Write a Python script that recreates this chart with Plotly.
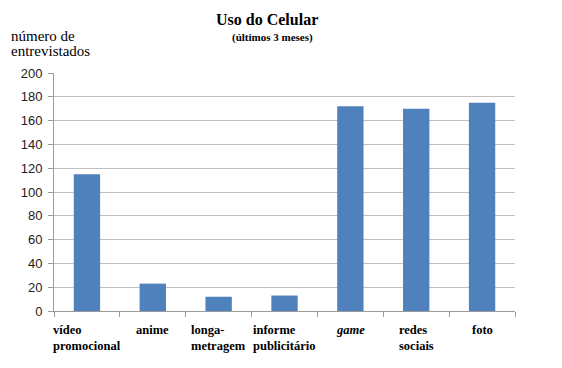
import plotly.graph_objects as go

categories = ["vídeo<br>promocional", "anime", "longa-<br>metragem", "informe<br>publicitário",
              "<i>game</i>", "redes<br>sociais", "foto"]
values = [115, 23, 12, 13, 172, 170, 175]
y_ticks = [0, 20, 40, 60, 80, 100, 120, 140, 160, 180, 200]
title = "Uso do Celular"
subtitle = "(últimos 3 meses)"
y_title_lines = ["número de", "entrevistados"]

idx = list(range(len(categories)))

fig = go.Figure(go.Bar(x=idx, y=values, marker=dict(color="#4f81bd", line=dict(width=0)), width=0.4))

serif = "Liberation Serif, Times New Roman, Times, serif"
L, T, PW, PH = 54, 73, 461, 238


def px(x):
    return (x - L) / PW


def py(y):
    return (T + PH - y) / PH


annotations = []
for i, c in enumerate(categories):
    annotations.append(dict(x=i, y=py(321), xref="x", yref="paper", text="<b>" + c + "</b>",
                            showarrow=False, xanchor="center", yanchor="top", align="left",
                            font=dict(family=serif, size=12.5, color="black")))
annotations += [
    dict(x=px(267), y=py(20), xref="paper", yref="paper", text="<b>" + title + "</b>",
         showarrow=False, xanchor="center", yanchor="middle", font=dict(family=serif, size=16, color="black")),
    dict(x=px(272), y=py(37), xref="paper", yref="paper", text="<b>" + subtitle + "</b>",
         showarrow=False, xanchor="center", yanchor="middle", font=dict(family=serif, size=11, color="black")),
]
for k, line in enumerate(y_title_lines):
    annotations.append(dict(x=px(9), y=py(36 + 15 * k), xref="paper", yref="paper", text=line,
                            showarrow=False, xanchor="left", yanchor="middle", align="left",
                            font=dict(family=serif, size=15, color="black")))

fig.update_layout(
    width=562, height=368,
    margin=dict(l=54, r=47, t=73, b=57),
    paper_bgcolor="white", plot_bgcolor="white",
    showlegend=False,
    annotations=annotations,
    xaxis=dict(range=[-0.5, len(categories) - 0.5], tickvals=[i - 0.5 for i in idx] + [len(categories) - 0.5],
               showticklabels=False, ticks="outside", ticklen=5, tickcolor="#9a9a9a",
               showline=True, linecolor="#9a9a9a", linewidth=1, showgrid=False, zeroline=False),
    yaxis=dict(range=[0, 200], tickvals=y_ticks, ticks="outside", ticklen=5, tickcolor="#9a9a9a",
               showline=True, linecolor="#9a9a9a", linewidth=1, gridcolor="#bfbfbf", gridwidth=1,
               zeroline=False, tickfont=dict(family="Liberation Sans", size=13, color="#222"),
               ticklabelstandoff=3),
)

fig.write_html("out.html", config={"displayModeBar": False},
               post_script="document.body.style.margin='0';")
